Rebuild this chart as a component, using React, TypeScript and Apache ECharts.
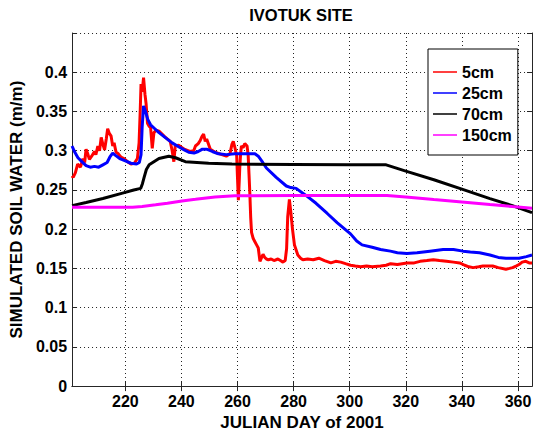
import React, { useEffect, useRef } from "react";
import * as echarts from "echarts";

const titleText = "IVOTUK SITE";
const xName = "JULIAN DAY of 2001";
const yName = "SIMULATED SOIL WATER (m/m)";
const seriesNames = ["5cm", "25cm", "70cm", "150cm"];
const seriesColors = ["#ff0000", "#0000ff", "#000000", "#ff00ff"];
const xTicks = [220, 240, 260, 280, 300, 320, 340, 360];

const redDays = [201.0, 201.4, 202.2, 203.0, 204.0, 204.9, 205.5, 206.0, 206.6, 207.2, 208.0, 209.0, 209.5, 210.2, 210.8, 211.4, 212.0, 212.6, 213.2, 213.7, 214.3, 214.9, 215.5, 216.0, 216.7, 217.5, 218.4, 219.5, 220.8, 222.0, 223.2, 224.3, 224.9, 225.3, 225.6, 226.0, 226.5, 227.0, 227.4, 227.9, 228.5, 229.0, 229.6, 230.2, 231.0, 232.0, 234.0, 236.0, 236.7, 237.3, 237.8, 239.0, 241.0, 243.0, 244.4, 245.0, 246.0, 246.7, 247.3, 247.9, 248.5, 249.0, 250.3, 252.0, 254.4, 256.0, 257.3, 258.0, 258.5, 259.0, 259.7, 260.0, 260.3, 260.6, 260.8, 261.1, 261.4, 262.0, 262.6, 263.4, 263.8, 264.1, 264.4, 264.7, 265.0, 265.6, 266.2, 266.8, 267.4, 268.0, 268.5, 269.1, 269.7, 270.3, 271.0, 272.0, 273.0, 274.4, 275.3, 276.2, 277.0, 277.5, 277.9, 278.5, 279.0, 279.6, 280.3, 281.5, 282.5, 283.3, 285.0, 287.0, 289.0, 291.0, 293.3, 295.0, 296.8, 298.5, 300.3, 302.0, 303.9, 306.0, 308.0, 311.0, 313.0, 314.6, 317.0, 320.4, 323.0, 325.1, 327.5, 329.8, 332.0, 334.5, 337.0, 339.2, 341.0, 342.5, 344.0, 346.0, 347.5, 349.5, 351.0, 353.0, 355.7, 357.0, 358.1, 359.3, 360.4, 361.5, 362.8, 364.0, 365.0];
const redVals = [0.268, 0.266, 0.272, 0.283, 0.279, 0.290, 0.285, 0.302, 0.296, 0.289, 0.293, 0.299, 0.295, 0.306, 0.300, 0.317, 0.308, 0.301, 0.315, 0.328, 0.322, 0.319, 0.306, 0.310, 0.298, 0.296, 0.292, 0.290, 0.286, 0.283, 0.284, 0.290, 0.310, 0.350, 0.385, 0.375, 0.393, 0.372, 0.360, 0.335, 0.331, 0.330, 0.303, 0.323, 0.326, 0.325, 0.318, 0.312, 0.300, 0.286, 0.306, 0.307, 0.302, 0.299, 0.300, 0.306, 0.309, 0.313, 0.318, 0.321, 0.312, 0.315, 0.302, 0.298, 0.295, 0.293, 0.296, 0.308, 0.312, 0.305, 0.294, 0.265, 0.237, 0.260, 0.278, 0.296, 0.306, 0.304, 0.309, 0.306, 0.294, 0.270, 0.245, 0.215, 0.196, 0.188, 0.184, 0.180, 0.176, 0.159, 0.163, 0.168, 0.164, 0.162, 0.161, 0.162, 0.160, 0.162, 0.160, 0.158, 0.160, 0.175, 0.216, 0.238, 0.222, 0.200, 0.180, 0.167, 0.163, 0.161, 0.162, 0.161, 0.163, 0.160, 0.157, 0.159, 0.158, 0.156, 0.154, 0.153, 0.152, 0.153, 0.152, 0.153, 0.154, 0.156, 0.155, 0.157, 0.157, 0.159, 0.160, 0.161, 0.160, 0.159, 0.158, 0.157, 0.154, 0.152, 0.151, 0.152, 0.153, 0.153, 0.153, 0.151, 0.149, 0.150, 0.151, 0.153, 0.155, 0.158, 0.159, 0.157, 0.157];

const blueDays = [201.0, 202.0, 203.1, 204.5, 206.0, 207.5, 209.0, 210.5, 212.0, 213.5, 214.5, 215.5, 216.5, 218.0, 220.0, 222.0, 224.0, 225.0, 225.6, 226.0, 226.5, 227.2, 228.0, 229.0, 230.5, 232.0, 234.5, 236.7, 239.0, 241.0, 242.6, 244.5, 246.0, 247.5, 249.0, 251.0, 253.2, 256.0, 259.0, 262.0, 264.0, 266.2, 267.4, 269.0, 270.3, 273.8, 277.4, 279.0, 280.9, 284.4, 288.0, 292.0, 295.6, 300.3, 302.5, 304.4, 308.0, 311.0, 314.5, 317.0, 320.4, 324.0, 328.6, 333.3, 337.0, 340.4, 343.0, 346.3, 350.0, 353.0, 355.7, 360.4, 363.0, 365.0];
const blueVals = [0.306, 0.298, 0.291, 0.286, 0.281, 0.279, 0.280, 0.279, 0.282, 0.285, 0.292, 0.297, 0.294, 0.290, 0.287, 0.284, 0.283, 0.285, 0.295, 0.330, 0.357, 0.350, 0.340, 0.333, 0.328, 0.323, 0.316, 0.310, 0.305, 0.301, 0.298, 0.297, 0.299, 0.302, 0.302, 0.299, 0.296, 0.295, 0.296, 0.296, 0.296, 0.296, 0.293, 0.285, 0.278, 0.266, 0.255, 0.253, 0.252, 0.243, 0.233, 0.220, 0.208, 0.194, 0.185, 0.180, 0.177, 0.174, 0.172, 0.170, 0.169, 0.170, 0.172, 0.174, 0.174, 0.172, 0.171, 0.170, 0.167, 0.164, 0.163, 0.163, 0.165, 0.167];

const blackDays = [201, 206, 212, 219, 223, 225.5, 226.1, 226.7, 227.5, 228.5, 232, 235.5, 237.9, 241.4, 249.7, 258, 280, 300, 313, 320, 330, 340, 350, 358, 365];
const blackVals = [0.230, 0.234, 0.239, 0.246, 0.250, 0.252, 0.258, 0.266, 0.276, 0.282, 0.290, 0.293, 0.291, 0.286, 0.284, 0.283, 0.2825, 0.282, 0.282, 0.274, 0.263, 0.251, 0.239, 0.230, 0.221];

const magentaDays = [201, 222.6, 226, 230.8, 235, 240.2, 245, 252, 259, 280, 300, 313.3, 320, 330, 340, 350, 358, 365];
const magentaVals = [0.228, 0.228, 0.229, 0.231, 0.233, 0.236, 0.238, 0.241, 0.2426, 0.2428, 0.2428, 0.243, 0.241, 0.2377, 0.2345, 0.2313, 0.2288, 0.2267];

const zip = (d: number[], v: number[]) => d.map((x, i) => [x, v[i]]);

const FONT = "'Liberation Sans', Arial, Helvetica, sans-serif";
const WEIGHT = "bold";
const gridLine = { show: true, lineStyle: { color: "#222", width: 1, type: [1, 3] as any } };
const axisLineStyle = { show: true, lineStyle: { color: "#262626", width: 1 } };

export default function App() {
  const ref = useRef<HTMLDivElement>(null);
  useEffect(() => {
    if (!ref.current) return;
    const chart = echarts.init(ref.current, undefined, { renderer: "svg" });
    const data = [zip(redDays, redVals), zip(blueDays, blueVals), zip(blackDays, blackVals), zip(magentaDays, magentaVals)];
    chart.setOption({
      animation: false,
      backgroundColor: "#fff",
      title: {
        text: titleText,
        left: 301,
        top: 6,
        textAlign: "center",
        padding: 0,
        textStyle: { fontFamily: FONT, fontSize: 16.5, fontWeight: WEIGHT, color: "#000" },
      },
      grid: { left: 69, right: 5, top: 33, bottom: 36, containLabel: false },
      legend: {
        data: seriesNames,
        orient: "vertical",
        left: 428,
        top: 49,
        padding: [15, 6, 12, 5],
        itemWidth: 24,
        itemHeight: 14,
        itemGap: 5,
        backgroundColor: "#fff",
        borderColor: "#000",
        borderWidth: 1,
        icon: "path://M0,0L24,0L24,1.5L0,1.5Z",
        textStyle: { fontFamily: FONT, fontSize: 16, fontWeight: WEIGHT, color: "#000" },
      },
      xAxis: [
        {
          type: "value",
          min: 201,
          max: 365,
          position: "bottom",
          name: xName,
          nameLocation: "middle",
          nameGap: 23,
          nameTextStyle: { fontFamily: FONT, fontSize: 17, fontWeight: WEIGHT, color: "#000" },
          axisLine: axisLineStyle,
          axisTick: { show: true, inside: true, length: 5, customValues: xTicks, lineStyle: { color: "#262626" } },
          axisLabel: { customValues: xTicks, margin: 7, fontFamily: FONT, fontSize: 16, fontWeight: WEIGHT, color: "#000" },
          splitLine: gridLine,
        },
        {
          type: "value",
          min: 201,
          max: 365,
          position: "top",
          axisLine: axisLineStyle,
          axisTick: { show: true, inside: true, length: 5, customValues: xTicks, lineStyle: { color: "#262626" } },
          axisLabel: { show: false },
          splitLine: { show: false },
        },
      ],
      yAxis: [
        {
          type: "value",
          min: 0,
          max: 0.45,
          interval: 0.05,
          position: "left",
          name: yName,
          nameLocation: "middle",
          nameGap: 35,
          nameTextStyle: { fontFamily: FONT, fontSize: 17, fontWeight: WEIGHT, color: "#000" },
          axisLine: axisLineStyle,
          axisTick: { show: true, inside: true, length: 5, lineStyle: { color: "#262626" } },
          axisLabel: {
            margin: 5,
            fontFamily: FONT,
            fontSize: 16,
            fontWeight: WEIGHT,
            color: "#000",
            formatter: (v: number) => (v > 0.44 ? "" : String(+v.toFixed(2))),
          },
          splitLine: gridLine,
        },
        {
          type: "value",
          min: 0,
          max: 0.45,
          interval: 0.05,
          position: "right",
          axisLine: axisLineStyle,
          axisTick: { show: true, inside: true, length: 5, lineStyle: { color: "#262626" } },
          axisLabel: { show: false },
          splitLine: { show: false },
        },
      ],
      series: seriesNames.map((name, i) => ({
        name,
        type: "line",
        xAxisIndex: 0,
        yAxisIndex: 0,
        data: data[i],
        showSymbol: false,
        symbol: "none",
        color: seriesColors[i],
        lineStyle: { color: seriesColors[i], width: 3 },
      })),
    });
    return () => chart.dispose();
  }, []);
  return <div ref={ref} style={{ width: 537, height: 436, position: "absolute", left: 0, top: 0 }} />;
}
